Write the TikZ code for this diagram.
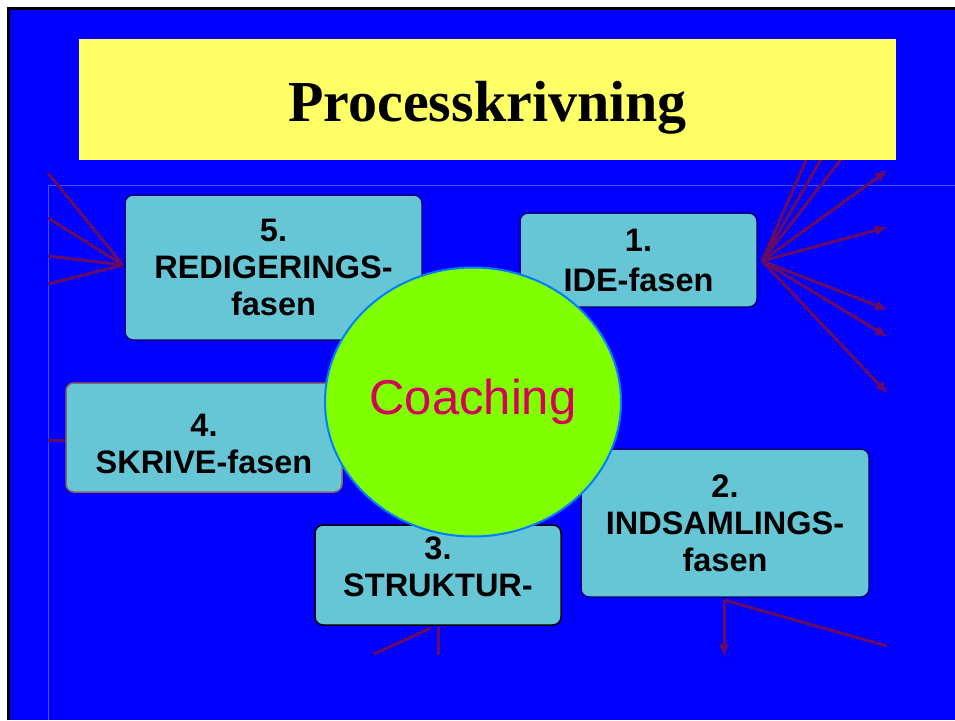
\documentclass[tikz,border=0pt]{standalone}
\usepackage{fontspec}
\setmainfont{Liberation Serif}
\setsansfont{Liberation Sans}
\usetikzlibrary{arrows.meta,shapes.geometric}

\definecolor{bund}{HTML}{0000FF}
\definecolor{rammelinje}{HTML}{5050FF}
\definecolor{titelgul}{HTML}{FFFF66}
\definecolor{fasecyan}{HTML}{66C6D6}
\definecolor{marine}{HTML}{000080}
\definecolor{brunkant}{HTML}{8C6464}
\definecolor{coachgron}{HTML}{80FF00}
\definecolor{ringbla}{HTML}{0080FF}
\definecolor{coachrod}{HTML}{D4005A}
\definecolor{pilfarve}{HTML}{660A66}

\begin{document}
\begin{tikzpicture}[
    x=1pt, y=-1pt,
    fase/.style={rectangle, rounded corners=8pt, draw=marine, line width=1.5pt, fill=fasecyan, align=center, inner sep=0pt, font=\sffamily\bfseries\fontsize{32.5}{37}\selectfont},
    pil/.style={draw=pilfarve, line width=3pt},
    pilspids/.style={pil, -{Latex[length=13pt,width=11pt]}}
]

\useasboundingbox (0,0) rectangle (955,720);
\fill[white] (0,0) rectangle (955,720);
\fill[bund] (8.5,8.5) rectangle (955,720);
\draw[black, line width=3.5pt] (8.5,720) -- (8.5,8.5) -- (955,8.5);
\draw[rammelinje, line width=1pt] (48,720) -- (48,185) -- (955,185);

% Faser
\node[fase, minimum width=297pt, minimum height=145pt] (redig) at (273.5,267.5) {5.\\REDIGERINGS-\\fasen};
\node[fase, minimum width=237pt, minimum height=94pt] (ide) at (638.5,260) {1.\\[3pt]IDE-fasen};
\node[fase, draw=brunkant, minimum width=276pt, minimum height=109pt] (skriv) at (204,437.5) {\rule{0pt}{35pt}4.\\SKRIVE-fasen};
\node[fase, minimum width=288pt, minimum height=148pt] (indsam) at (725,523) {2.\\INDSAMLINGS-\\fasen};
\node[fase, draw=black, minimum width=246pt, minimum height=100pt] (struktur) at (438,575) {3.\\STRUKTUR-\rule[-16pt]{0pt}{16pt}};

% Pile ud fra IDE-fasen
\coordinate (ideud) at (762,261);
\foreach \n/\ex/\ey in {a/807/158, b/822/158, c/842/158} {
    \coordinate (op\n) at (\ex,\ey);
    \draw[pil] (ideud) -- (op\n);
}
\foreach \n/\ex/\ey in {a/888/170, b/888/227, c/888/310, d/888/337, e/888/394} {
    \coordinate (hojre\n) at (\ex,\ey);
    \draw[pilspids] (ideud) -- (hojre\n);
}

% Pile ind mod REDIGERINGS-fasen
\coordinate (redigind) at (123,265);
\foreach \n/\ey in {a/173, b/218, c/256, d/284} {
    \coordinate (venstre\n) at (48,\ey);
    \draw[pil] (venstre\n) -- (redigind);
}
\coordinate (skrivind) at (48,440);
\draw[pil] (skrivind) -- (skrivind -| skriv.west);

% Pile under STRUKTUR og INDSAMLINGS
\coordinate (strukturbund) at (438,627);
\coordinate (strukturned) at (438,655);
\coordinate (strukturskra) at (374,654);
\draw[pil] (strukturbund) -- (strukturned);
\draw[pil] (strukturskra) -- (431,628);
\coordinate (indsambund) at (724,600);
\coordinate (indsamned) at (724,657);
\coordinate (indsamhojre) at (887,646);
\draw[pilspids] (indsambund) -- (indsamned);
\draw[pil] (indsambund) -- (indsamhojre);

% Titel
\node[fill=titelgul, minimum width=817pt, minimum height=121pt, text height=55pt, text depth=12pt, font=\bfseries\fontsize{58}{60}\selectfont] (titel) at (487.5,99.5) {Processkrivning};

% Coaching
\node[ellipse, draw=ringbla, line width=2pt, fill=coachgron, minimum width=296pt, minimum height=269pt, inner sep=0pt, text=coachrod, font=\sffamily\fontsize{49}{55}\selectfont] (coach) at (473,402) {Coaching};

\end{tikzpicture}
\end{document}
